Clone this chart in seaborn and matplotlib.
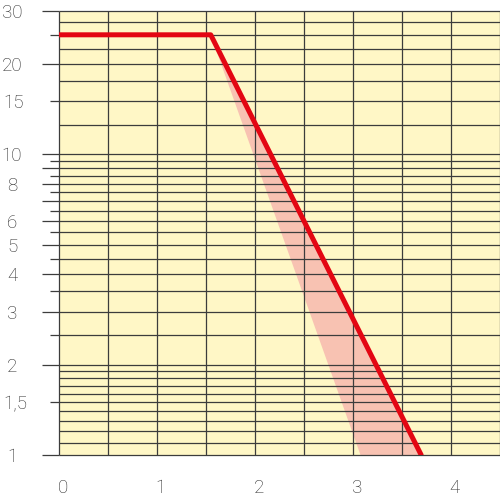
import matplotlib
matplotlib.use("Agg")
import numpy as np
import pandas as pd
import seaborn as sns
import matplotlib.pyplot as plt
from matplotlib.transforms import ScaledTranslation

sns.set_style("white")
plt.rcParams["font.family"] = ["Roboto", "DejaVu Sans"]

# red curve and the pink band under it
curve_x = [0, 1.55, 3.70]
curve_y = [25, 25, 1]
band_x = [1.55, 3.70, 3.08]
band_y = [25, 1, 1]

# grid levels
grid_y = [1, 1.1, 1.2, 1.3, 1.4, 1.5, 1.6, 1.7, 1.8, 1.9, 2, 2.5, 3, 3.5, 4, 4.5,
          5, 5.5, 6, 6.5, 7, 7.5, 8, 8.5, 9, 9.5, 10, 12.5, 15, 17.5, 20, 22.5,
          25, 27.5, 30]
grid_x = [0, 0.5, 1, 1.5, 2, 2.5, 3, 3.5, 4, 4.5]

# ticks
major_y = [1, 2, 3, 4, 5, 6, 7, 8, 9, 10, 20, 30]
major_labels = ["1", "2", "3", "4", "5", "6", "", "8", "", "10", "20", "30"]
minor_y = [1.5, 2.5, 3.5, 4.5, 5.5, 6.5, 7.5, 8.5, 9.5, 15, 25]
minor_labels = ["1,5", "", "", "", "", "", "", "", "", "15", ""]
x_ticks = [0, 1, 2, 3, 4]

yellow = "#fff7c6"
pink = "#f8c2b2"
red = "#e30613"
grid_col = "#3c3c3c"
text_col = "#2a2a2a"

fig = plt.figure(figsize=(5, 5), dpi=100)
ax = fig.add_axes([59 / 500, 45 / 500, 440.5 / 500, 444 / 500])
ax.set_facecolor(yellow)
ax.set_yscale("log")
ax.set_xlim(0, 4.5)
ax.set_ylim(1, 30)

ax.fill(band_x, band_y, color=pink, lw=0, zorder=1)
ax.hlines(grid_y, 0, 4.5, colors=grid_col, lw=0.9, zorder=2, clip_on=False)
ax.vlines(grid_x, 1, 30, colors=grid_col, lw=0.9, zorder=2, clip_on=False)

df = pd.DataFrame({"x": curve_x, "y": curve_y})
sns.lineplot(data=df, x="x", y="y", ax=ax, color=red, linewidth=3.6,
             sort=False, zorder=3)

for s in ax.spines.values():
    s.set_visible(False)

ax.set_yticks(major_y, labels=major_labels)
ax.set_yticks(minor_y, labels=minor_labels, minor=True)
ax.set_xticks(x_ticks, labels=[str(v) for v in x_ticks])
ax.set_xlabel("")
ax.set_ylabel("")

fs = 13.5
ax.tick_params(axis="y", which="major", left=True, direction="out",
               length=12.2, width=0.9, color=grid_col, pad=21.6,
               labelsize=fs, labelcolor=text_col)
ax.tick_params(axis="y", which="minor", left=True, direction="out",
               length=6.5, width=0.9, color=grid_col, pad=33.8,
               labelsize=fs, labelcolor=text_col)
ax.tick_params(axis="x", bottom=False, length=0, pad=17,
               labelsize=fs, labelcolor=text_col)

for lab in ax.get_yticklabels():
    lab.set_horizontalalignment("center")
    lab.set_fontweight("light")
for lab in ax.get_yticklabels(minor=True):
    lab.set_horizontalalignment("left")
    lab.set_fontweight("light")
shift = ScaledTranslation(4 / 100, 0, fig.dpi_scale_trans)
for lab in ax.get_xticklabels():
    lab.set_fontweight("light")
    lab.set_transform(lab.get_transform() + shift)

fig.savefig("out.png", dpi=100)
